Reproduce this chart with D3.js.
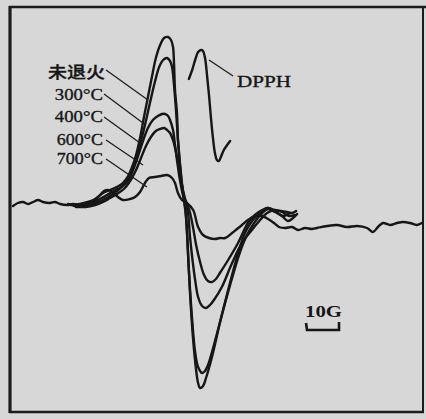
<!DOCTYPE html>
<html>
<head>
<meta charset="utf-8">
<script src="https://cdn.jsdelivr.net/npm/d3@7"></script>
<style>
  html, body { margin: 0; padding: 0; background: #d7d7d7; }
  svg { display: block; }
</style>
</head>
<body>
<div id="chart"></div>
<script>
// ESR spectra, field in G, intensity in arbitrary units
const sampleNames = ['未退火', '300°C', '400°C', '600°C', '700°C'];

const unannealed = [
  [18.2, 0], [21.2, 1], [23.6, 3], [25.8, 6], [28.2, 12], [30.3, 15], [32.4, 18], [34.2, 22],
  [35.8, 29], [37.0, 38], [38.2, 50], [39.4, 67], [40.6, 88], [41.8, 108], [43.0, 128], [44.2, 147],
  [45.5, 160], [46.7, 167], [47.9, 168], [48.8, 165], [49.4, 158], [49.7, 142], [50.0, 115], [50.6, 92],
  [50.9, 65], [51.5, 42], [52.1, 22], [52.7, 5], [53.3, -10], [53.9, -45], [54.5, -85], [55.5, -135],
  [56.4, -165], [57.0, -178], [57.6, -183], [58.5, -181], [59.4, -173], [61.2, -152], [63.6, -118],
  [66.1, -85], [68.8, -52], [71.2, -28], [73.6, -15], [75.8, -8], [77.9, -3], [80.0, -5], [82.1, -6],
  [83.9, -7], [85.5, -8], [86.7, -6]
];

const t300 = [
  [19.4, -1], [22.4, 0], [24.8, 2], [27.3, 6], [29.4, 10], [31.5, 14], [33.3, 17], [35.2, 23],
  [36.7, 32], [38.2, 45], [39.4, 60], [40.9, 80], [42.4, 102], [43.9, 123], [45.2, 138], [46.4, 145],
  [47.6, 147], [48.5, 144], [49.1, 138], [49.7, 120], [50.3, 95], [50.9, 65], [51.5, 40], [52.1, 20],
  [53.0, 0], [53.6, -25], [54.2, -65], [55.2, -115], [56.1, -147], [57.0, -162], [58.2, -168],
  [59.1, -166], [60.0, -160], [61.8, -140], [64.2, -110], [66.7, -80], [69.4, -50], [71.8, -30],
  [74.2, -17], [76.4, -8], [78.2, -4], [80.3, -7], [82.4, -11], [84.2, -16], [85.8, -13], [87.0, -9]
];

const t400 = [
  [17.6, 1], [20.6, -1], [23.6, 0], [26.1, 2], [28.2, 5], [30.3, 9], [32.4, 14], [34.2, 19],
  [35.8, 25], [37.3, 35], [38.8, 49], [40.3, 64], [41.8, 77], [43.3, 85], [44.8, 89], [46.1, 91],
  [47.0, 91], [47.9, 89], [48.5, 85], [49.4, 75], [50.0, 60], [50.6, 45], [51.5, 25], [52.4, 10],
  [53.3, 0], [53.9, -7], [54.5, -30], [55.2, -52], [56.1, -75], [57.0, -92], [58.2, -101],
  [59.4, -103], [60.6, -100], [61.8, -95], [64.2, -82], [67.3, -58], [70.3, -38], [73.3, -25],
  [75.8, -15], [77.9, -8], [80.3, -5], [82.4, -7], [84.5, -11], [86.4, -10]
];

const t600 = [
  [20.0, -2], [23.0, -2], [25.8, 0], [28.2, 3], [30.3, 7], [32.4, 11], [34.5, 16], [36.4, 24],
  [38.2, 35], [39.7, 47], [41.2, 59], [42.7, 68], [44.2, 74], [45.5, 76], [46.7, 77], [47.6, 75],
  [48.5, 72], [49.4, 65], [50.3, 53], [51.2, 37], [52.1, 20], [53.0, 7], [53.9, -1], [54.5, -7],
  [55.5, -23], [56.4, -40], [57.6, -57], [58.8, -70], [60.0, -76], [61.2, -77], [62.4, -74],
  [63.6, -68], [66.1, -55], [69.1, -38], [72.1, -18], [74.2, -10], [76.4, -5], [78.2, -3],
  [80.3, -6], [82.7, -11], [84.8, -8]
];

const t700 = [
  [0.9, -1], [2.4, 2], [3.9, 3], [5.5, 1], [7.0, 3], [8.5, 5], [10.0, 3], [12.1, 2], [13.6, 3],
  [15.2, 1], [17.3, 0], [19.1, 1], [21.2, 0], [23.6, 2], [25.8, 5], [27.3, 10], [28.5, 14],
  [29.7, 15], [31.2, 13], [32.7, 8], [34.2, 5], [36.4, 6], [37.9, 8], [39.4, 13], [40.9, 22],
  [42.1, 27], [43.9, 28], [45.8, 29], [47.6, 30], [49.1, 27], [50.0, 22], [50.9, 12], [52.1, 5],
  [53.6, 2], [55.5, -5], [57.0, -22], [58.5, -30], [60.3, -33], [62.1, -34], [63.6, -33],
  [65.2, -33], [67.3, -28], [68.8, -24], [70.3, -20], [72.1, -15], [74.2, -11], [76.4, -11],
  [78.2, -14], [80.0, -18], [81.5, -22], [83.3, -23], [85.5, -22], [87.3, -25], [89.4, -23],
  [91.5, -24], [93.0, -23], [96.1, -21], [99.1, -20], [102.1, -22], [105.2, -21], [108.2, -23],
  [110.0, -27], [111.5, -22], [113.0, -18], [115.2, -20], [117.3, -18], [119.1, -17],
  [121.2, -18], [123.3, -20], [124.8, -18]
];

const dpph = [
  [54.2, 126], [55.2, 135], [56.1, 145], [57.0, 153], [57.9, 155], [58.5, 154], [59.1, 147],
  [59.7, 130], [60.3, 110], [60.9, 87], [61.5, 67], [62.1, 52], [62.7, 45], [63.3, 44],
  [63.9, 48], [64.8, 55], [65.8, 60], [66.7, 64]
];

// labels: text, label position, leader start, leader end (field G, intensity)
const labels = [
  { text: '未退火', at: [11.5, 127], from: [29.1, 135], to: [41.8, 105], len: 57 },
  { text: '300°C', at: [13.6, 105], from: [28.5, 111], to: [40.3, 82], len: 48 },
  { text: '400°C', at: [13.6, 83], from: [28.5, 88], to: [39.4, 62], len: 48 },
  { text: '600°C', at: [14.2, 60], from: [29.1, 65], to: [40.3, 40], len: 46 },
  { text: '700°C', at: [14.2, 41], from: [29.1, 46], to: [41.5, 18], len: 46 },
  { text: 'DPPH', at: [68.8, 118], from: [60.3, 145], to: [67.6, 129], len: 54 }
];

const scaleBarStart = 89.7;   // G
const scaleBarLength = 10;    // G
const scaleBarLevel = -125;

const width = 426, height = 419;

const x = d3.scaleLinear().domain([0, 125]).range([10, 422.5]);
const y = d3.scaleLinear().domain([-200, 200]).range([405, 5]);

const svg = d3.select('#chart').append('svg')
  .attr('width', width)
  .attr('height', height);

svg.append('rect')
  .attr('width', width)
  .attr('height', height)
  .attr('fill', '#d7d7d7');

// frame
const frame = svg.append('g').attr('stroke', '#1b1b1b').attr('fill', 'none');
frame.append('line').attr('x1', 9).attr('x2', 426).attr('y1', 7).attr('y2', 7).attr('stroke-width', 2.5);
frame.append('line').attr('x1', 10).attr('x2', 10).attr('y1', 6).attr('y2', 413).attr('stroke-width', 3.2);
frame.append('line').attr('x1', 9).attr('x2', 424).attr('y1', 412).attr('y2', 412).attr('stroke-width', 2.6);
frame.append('line').attr('x1', 423).attr('x2', 423).attr('y1', 6).attr('y2', 413).attr('stroke-width', 2);

const line = d3.line()
  .x(d => x(d[0]))
  .y(d => y(d[1]))
  .curve(d3.curveCatmullRom.alpha(0.5));

const spectra = [t700, t600, t400, t300, unannealed, dpph];

svg.append('g')
  .selectAll('path')
  .data(spectra)
  .join('path')
  .attr('d', line)
  .attr('fill', 'none')
  .attr('stroke', '#161616')
  .attr('stroke-width', 2.4)
  .attr('stroke-linejoin', 'round')
  .attr('stroke-linecap', 'round');

// leaders
svg.append('g')
  .selectAll('line')
  .data(labels)
  .join('line')
  .attr('x1', d => x(d.from[0]))
  .attr('y1', d => y(d.from[1]))
  .attr('x2', d => x(d.to[0]))
  .attr('y2', d => y(d.to[1]))
  .attr('stroke', '#1e1e1e')
  .attr('stroke-width', 1.3);

svg.append('g')
  .selectAll('text')
  .data(labels)
  .join('text')
  .attr('x', d => x(d.at[0]))
  .attr('y', d => y(d.at[1]))
  .attr('textLength', d => d.len)
  .attr('lengthAdjust', 'spacingAndGlyphs')
  .attr('font-family', d => d.text === '未退火'
    ? '"Noto Sans CJK SC", sans-serif'
    : '"Liberation Serif", "DejaVu Serif", serif')
  .attr('font-size', d => d.text === '未退火' ? 16 : 17)
  .attr('font-weight', d => d.text === '未退火' ? 500 : 400)
  .attr('fill', '#161616')
  .attr('stroke', '#161616')
  .attr('stroke-width', 0.35)
  .text(d => d.text);

// 10 G scale bar
const sb = svg.append('g');
const sx0 = x(scaleBarStart), sx1 = x(scaleBarStart + scaleBarLength), sy = y(scaleBarLevel);
sb.append('path')
  .attr('d', `M${sx0},${sy - 7}L${sx0 + 1},${sy}L${sx1},${sy}L${sx1},${sy - 8}`)
  .attr('fill', 'none')
  .attr('stroke', '#161616')
  .attr('stroke-width', 2.6);
sb.append('text')
  .attr('x', sx0 - 1)
  .attr('y', sy - 13)
  .attr('textLength', 37)
  .attr('lengthAdjust', 'spacingAndGlyphs')
  .attr('font-family', '"Liberation Serif", serif')
  .attr('font-size', 17)
  .attr('font-weight', 'bold')
  .attr('fill', '#161616')
  .text('10G');
</script>
</body>
</html>
